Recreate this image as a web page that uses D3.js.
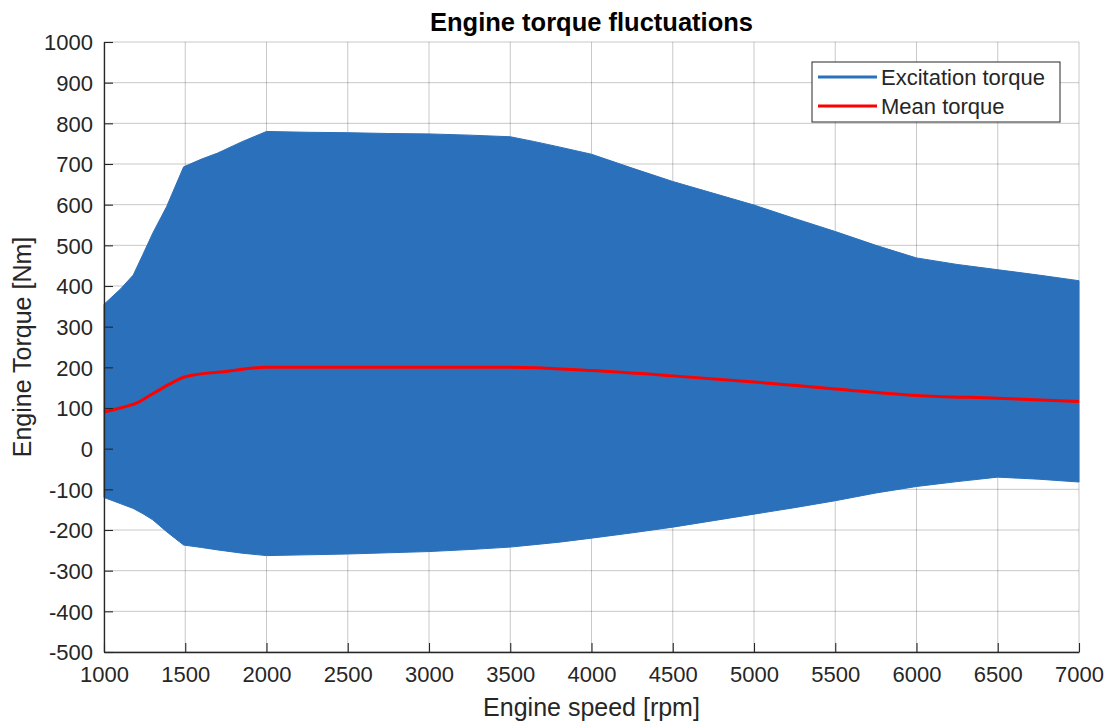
<!DOCTYPE html>
<html>
  <head>
    <meta charset="utf-8">
    <title>Engine torque fluctuations</title>
    <script src="https://cdn.jsdelivr.net/npm/d3@7"></script>
    <style>
      body { margin: 0; background: #fff; }
      text { font-family: "Liberation Sans", Arial, Helvetica, sans-serif; }
    </style>
  </head>
  <body>
    <svg width="1110" height="722" id="mainsvg"></svg>
    <script>
    // envelope of the excitation torque
    const speeds = [1000, 1100, 1180, 1240, 1300, 1385, 1490, 1600, 1700, 1850, 2000, 2250, 2500, 2750, 3000, 3250, 3500, 3650, 3800, 4000, 4250, 4500, 4750, 5000, 5250, 5500, 5750, 6000, 6250, 6500, 6750, 7000];
    const upperTorque = [355, 392, 427, 478, 530, 595, 693, 712, 727, 755, 780, 778, 777, 775, 774, 771, 767, 755, 742, 724, 690, 657, 628, 599, 566, 534, 500, 469, 453, 440, 427, 413];
    const lowerTorque = [-120, -135, -147, -160, -175, -204, -237, -243, -249, -257, -263, -261, -259, -256, -253, -248, -242, -236, -230, -220, -207, -193, -177, -161, -145, -128, -109, -93, -81, -70, -75, -82];

    // mean torque
    const meanSpeeds = [1000, 1100, 1200, 1300, 1400, 1500, 1750, 2000, 2500, 3000, 3500, 4000, 4500, 5000, 5500, 6000, 6500, 7000];
    const meanTorque = [90, 100, 112, 135, 158, 177, 190, 200, 200, 200, 200, 192, 179, 164, 147, 131, 124, 116];

    const xTicks = d3.range(1000, 7001, 500);
    const yTicks = d3.range(-500, 1001, 100);
    const legendLabels = ['Excitation torque', 'Mean torque'];

    const blue = '#2a70ba', red = '#ff0000', axisColor = '#262626';

    let svg = d3.select('#mainsvg');
    const mLeft = 104, mRight = 1079, mTop = 42, mBottom = 652;

    const x = d3.scaleLinear().domain([1000, 7000]).range([mLeft, mRight]);
    const y = d3.scaleLinear().domain([-500, 1000]).range([mBottom, mTop]);

    // grid
    svg.append('g').selectAll('line').data(xTicks).join('line')
      .attr('x1', d => x(d)).attr('x2', d => x(d))
      .attr('y1', mTop).attr('y2', mBottom)
      .attr('stroke', axisColor).attr('stroke-opacity', 0.25).attr('stroke-width', 1);
    svg.append('g').selectAll('line').data(yTicks).join('line')
      .attr('x1', mLeft).attr('x2', mRight)
      .attr('y1', d => y(d)).attr('y2', d => y(d))
      .attr('stroke', axisColor).attr('stroke-opacity', 0.25).attr('stroke-width', 1);

    // excitation band
    const band = speeds.map((s, i) => ({s: s, hi: upperTorque[i], lo: lowerTorque[i]}));
    svg.append('path').datum(band)
      .attr('fill', blue)
      .attr('stroke', blue).attr('stroke-width', 1)
      .attr('d', d3.area().x(d => x(d.s)).y0(d => y(d.lo)).y1(d => y(d.hi)));

    // mean line
    const meanData = meanSpeeds.map((s, i) => ({s: s, v: meanTorque[i]}));
    svg.append('path').datum(meanData)
      .attr('fill', 'none').attr('stroke', red).attr('stroke-width', 3)
      .attr('stroke-linejoin', 'round')
      .attr('d', d3.line().x(d => x(d.s)).y(d => y(d.v)).curve(d3.curveMonotoneX));

    // axes
    const xAxis = svg.append('g').attr('transform', `translate(0,${mBottom})`)
      .call(d3.axisBottom(x).tickValues(xTicks).tickFormat(d => String(d)).tickSizeInner(-9).tickSizeOuter(0).tickPadding(14));
    const yAxis = svg.append('g').attr('transform', `translate(${mLeft},0)`)
      .call(d3.axisLeft(y).tickValues(yTicks).tickFormat(d => String(d)).tickSizeInner(-9).tickSizeOuter(0).tickPadding(11));
    [xAxis, yAxis].forEach(a => {
      a.select('.domain').attr('stroke', axisColor).attr('stroke-width', 1.3);
      a.selectAll('.tick line').attr('stroke', axisColor).attr('stroke-width', 1.1);
      a.selectAll('.tick text').attr('fill', axisColor)
        .style('font-size', '22px').style('font-family', '"Liberation Sans", Arial, sans-serif');
    });
    yAxis.selectAll('.tick text').attr('dy', '0.36em');
    xAxis.selectAll('.tick text').attr('dy', '0.72em');

    // title and labels
    svg.append('text').attr('x', (mLeft + mRight) / 2).attr('y', 31)
      .attr('text-anchor', 'middle').attr('font-weight', 'bold')
      .attr('font-size', '25.5px').attr('fill', '#000')
      .text('Engine torque fluctuations');
    svg.append('text').attr('x', (mLeft + mRight) / 2).attr('y', 716)
      .attr('text-anchor', 'middle').attr('font-size', '25px').attr('fill', axisColor)
      .text('Engine speed [rpm]');
    svg.append('text')
      .attr('transform', `translate(31,${(mTop + mBottom) / 2}) rotate(-90)`)
      .attr('text-anchor', 'middle').attr('font-size', '25px').attr('fill', axisColor)
      .text('Engine Torque [Nm]');

    // legend
    const lg = svg.append('g').attr('transform', 'translate(812,62)');
    lg.append('rect').attr('width', 248).attr('height', 60)
      .attr('fill', '#fff').attr('stroke', axisColor).attr('stroke-width', 1);
    const rows = lg.selectAll('g').data(legendLabels).join('g')
      .attr('transform', (d, i) => `translate(0,${15 + i * 29})`);
    rows.append('line').attr('x1', 6).attr('x2', 65)
      .attr('stroke', (d, i) => i === 0 ? blue : red).attr('stroke-width', 3);
    rows.append('text').attr('x', 69).attr('dy', '0.36em')
      .attr('font-size', '22px').attr('fill', axisColor)
      .text(d => d);
    </script>
  </body>
</html>
